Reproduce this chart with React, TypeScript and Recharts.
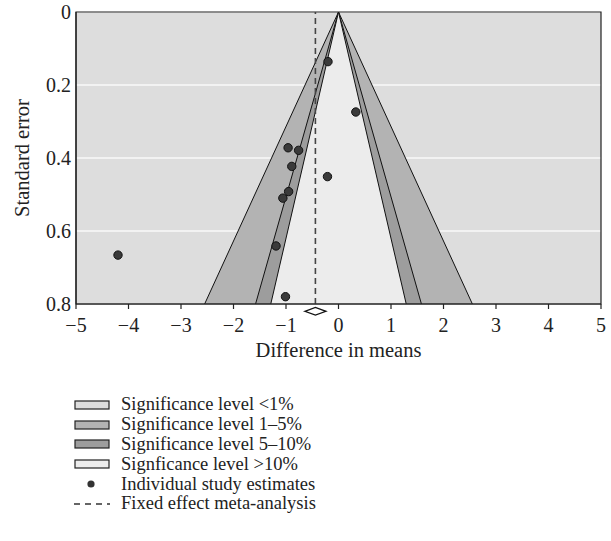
import React from 'react';
import {
  ComposedChart,
  Area,
  Scatter,
  XAxis,
  YAxis,
  CartesianGrid,
  ReferenceLine,
  ReferenceDot,
  ReferenceArea,
  Legend,
} from 'recharts';

// Funnel contours: half-width (difference in means) at each standard error
const seLevels = [0, 0.8];
const outerHalfWidth = [0, 2.55]; // significance 1–5% outer boundary
const midHalfWidth = [0, 1.58]; // 5–10% boundary
const innerHalfWidth = [0, 1.29]; // >10% boundary

// Individual studies
const studyEffects = [-0.2, 0.33, -0.96, -0.76, -0.89, -0.21, -0.95, -1.06, -1.19, -4.2, -1.01];
const studySE = [0.136, 0.274, 0.372, 0.379, 0.423, 0.451, 0.492, 0.51, 0.641, 0.666, 0.78];

const fixedEffect = -0.44;
const diamondSE = 0.82;

const xTicks = [-5, -4, -3, -2, -1, 0, 1, 2, 3, 4, 5];
const yTicks = [0, 0.2, 0.4, 0.6, 0.8];

const legendLabels = [
  'Significance level <1%',
  'Significance level 1\u20135%',
  'Significance level 5\u201310%',
  'Signficance level >10%',
  'Individual study estimates',
  'Fixed effect meta-analysis',
];

const FONT = '"Liberation Serif", "DejaVu Serif", serif';
const BG = '#dddddd';
const C15 = '#b3b3b3';
const C510 = '#9d9d9d';
const CIN = '#ececec';

const funnelData = seLevels.map((se, i) => ({
  se,
  outer: [-outerHalfWidth[i], outerHalfWidth[i]],
  mid: [-midHalfWidth[i], midHalfWidth[i]],
  inner: [-innerHalfWidth[i], innerHalfWidth[i]],
}));

const studies = studyEffects.map((x, i) => ({ x, se: studySE[i] }));

const fmt = (v: number) => (v < 0 ? '\u2212' + Math.abs(v) : String(v));

const Dot = (props: any) => (
  <circle cx={props.cx} cy={props.cy} r={4.2} fill="#3a3a3a" stroke="#111" strokeWidth={1} />
);

const Diamond = (props: any) => {
  const { cx, cy } = props;
  return (
    <path
      d={`M${cx - 10.5},${cy} L${cx},${cy - 3.8} L${cx + 10.5},${cy} L${cx},${cy + 3.8} Z`}
      fill="#fff"
      stroke="#111"
      strokeWidth={1.3}
    />
  );
};

const swatchColors = [BG, C15, C510, CIN];

const LegendContent = () => (
  <div style={{ fontFamily: FONT, fontSize: 18.5, color: '#222' }}>
    {legendLabels.map((label, i) => (
      <div key={i} style={{ display: 'flex', alignItems: 'center', height: 19.8 }}>
        <svg width={36} height={12} style={{ marginRight: 11 }}>
          {i < 4 && (
            <rect x={1} y={2} width={34} height={8} fill={swatchColors[i]} stroke="#222" strokeWidth={1.2} />
          )}
          {i === 4 && <circle cx={17} cy={6} r={3.6} fill="#333" />}
          {i === 5 && <line x1={0} y1={6} x2={36} y2={6} stroke="#333" strokeWidth={1.4} strokeDasharray="6 5" />}
        </svg>
        <span style={{ whiteSpace: 'nowrap' }}>{label}</span>
      </div>
    ))}
  </div>
);

export default function App() {
  return (
    <div style={{ position: 'absolute', left: 0, top: 0 }}>
      <ComposedChart
        width={611}
        height={541}
        layout="vertical"
        data={funnelData}
        margin={{ top: 12, right: 10, left: 0, bottom: 177 }}
        style={{ fontFamily: FONT }}
      >
        <CartesianGrid horizontal vertical={false} fill={BG} stroke="#f8f8f8" strokeWidth={1.5} />
        <XAxis
          type="number"
          dataKey="x"
          domain={[-5, 5]}
          ticks={xTicks}
          tickFormatter={fmt}
          interval={0}
          tickSize={5}
          tickMargin={9}
          height={60}
          axisLine={{ stroke: '#222', strokeWidth: 1.2 }}
          tickLine={{ stroke: '#222', strokeWidth: 1.2 }}
          tick={{ fill: '#222', fontSize: 20, fontFamily: FONT }}
          label={{ value: 'Difference in means', position: 'insideBottom', offset: 7, fill: '#222', fontSize: 20.5, fontFamily: FONT }}
        />
        <YAxis
          type="number"
          dataKey="se"
          domain={[0, 0.8]}
          ticks={yTicks}
          interval={0}
          width={76}
          tickLine={false}
          tickSize={2}
          tickMargin={3}
          axisLine={{ stroke: '#222', strokeWidth: 1.2 }}
          tick={{ fill: '#222', fontSize: 20, fontFamily: FONT }}
          label={{ value: 'Standard error', angle: -90, position: 'center', dx: -16, fill: '#222', fontSize: 20.5, fontFamily: FONT }}
        />
        <Area dataKey="outer" type="linear" fill={C15} fillOpacity={1} stroke="#111" strokeWidth={1} dot={false} activeDot={false} isAnimationActive={false} />
        <Area dataKey="mid" type="linear" fill={C510} fillOpacity={1} stroke="#111" strokeWidth={1} dot={false} activeDot={false} isAnimationActive={false} />
        <Area dataKey="inner" type="linear" fill={CIN} fillOpacity={1} stroke="#111" strokeWidth={1} dot={false} activeDot={false} isAnimationActive={false} />
        <ReferenceLine x={fixedEffect} stroke="#444" strokeWidth={1.6} strokeDasharray="6 4" />
        <Scatter data={studies} shape={Dot} isAnimationActive={false} />
        <ReferenceArea x1={-5} x2={5} y1={0} y2={0.8} fill="none" stroke="#222" strokeWidth={1.2} />
        <ReferenceDot x={fixedEffect} y={diamondSE} ifOverflow="visible" shape={Diamond} />
        <Legend
          layout="horizontal"
          verticalAlign="middle"
          align="center"
          content={LegendContent}
          wrapperStyle={{ top: 395, left: 74, width: 330, height: 125 }}
        />
      </ComposedChart>
    </div>
  );
}
